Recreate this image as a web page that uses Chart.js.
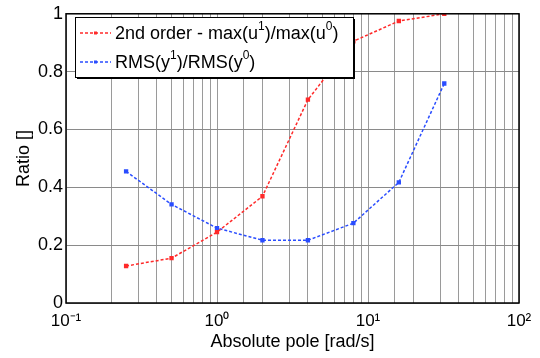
<!DOCTYPE html>
<html lang="en">
<head>
<meta charset="utf-8">
<script src="https://cdn.jsdelivr.net/npm/chart.js@4.4.1/dist/chart.umd.min.js"></script>
<style>
  html, body { margin: 0; padding: 0; background: #fff; }
  #wrap { width: 540px; height: 358px; }
</style>
</head>
<body>
<div id="wrap"><canvas id="chart" width="540" height="358"></canvas></div>
<script>
// pole magnitudes (rad/s)
var poles = [0.25, 0.5, 1, 2, 4, 8, 16, 32];
// 2nd order - max(u1)/max(u0)
var maxRatio = [0.128, 0.155, 0.245, 0.369, 0.703, 0.905, 0.975, 1.0];
// RMS(y1)/RMS(y0)
var rmsRatio = [0.455, 0.341, 0.259, 0.217, 0.217, 0.276, 0.417, 0.759];

var xDecades = [0.1, 1, 10, 100];
var xDecadeLabels = ['10⁻¹', '10⁰', '10¹', '10²'];
var yTicks = [0, 0.2, 0.4, 0.6, 0.8, 1];

var FONT = 'Liberation Sans, Arial, sans-serif';

function toPoints(xs, ys) {
  return xs.map(function (x, i) { return { x: x, y: ys[i] }; });
}

// draws a string with superscript parts, e.g. [['max(u',0],['1',1],[')',0]]
function drawRich(ctx, parts, x, y, size) {
  parts.forEach(function (p) {
    var sup = p[1];
    ctx.font = (sup ? Math.round(size * 0.65) : size) + 'px ' + FONT;
    ctx.fillText(p[0], x, sup ? y - size * 0.4 : y);
    x += ctx.measureText(p[0]).width;
  });
}

var frameAndLegend = {
  id: 'frameAndLegend',
  afterDatasetsDraw: function (chart) {
    var ctx = chart.ctx;
    var a = chart.chartArea;
    ctx.save();
    // axes box
    ctx.strokeStyle = '#000';
    ctx.lineWidth = 1.5;
    ctx.strokeRect(a.left, a.top, a.right - a.left, a.bottom - a.top);

    // legend box
    var lx = 75, ly = 17, lw = 278, lh = 60;
    ctx.fillStyle = '#fff';
    ctx.fillRect(lx, ly, lw, lh);
    ctx.lineWidth = 1;
    ctx.strokeRect(lx + 0.5, ly + 0.5, lw, lh);
    ctx.lineWidth = 2;
    ctx.beginPath();
    ctx.moveTo(lx + lw + 1, ly + 2); ctx.lineTo(lx + lw + 1, ly + lh + 1); ctx.lineTo(lx + 2, ly + lh + 1);
    ctx.stroke();

    var rows = [
      { color: '#ff2a2a', y: 33, parts: [['2nd order - max(u', 0], ['1', 1], [')/max(u', 0], ['0', 1], [')', 0]] },
      { color: '#2a4dff', y: 62, parts: [['RMS(y', 0], ['1', 1], [')/RMS(y', 0], ['0', 1], [')', 0]] }
    ];
    rows.forEach(function (r) {
      ctx.strokeStyle = r.color;
      ctx.lineWidth = 1.5;
      ctx.setLineDash([3, 2]);
      ctx.beginPath();
      ctx.moveTo(80, r.y); ctx.lineTo(111, r.y);
      ctx.stroke();
      ctx.setLineDash([]);
      ctx.fillStyle = r.color;
      ctx.fillRect(94, r.y - 1.5, 3, 3);
      ctx.fillStyle = '#000';
      ctx.textBaseline = 'middle';
      ctx.textAlign = 'left';
      drawRich(ctx, r.parts, 115, r.y + 1, 18);
    });
    ctx.restore();
  }
};

var ctx = document.getElementById('chart').getContext('2d');
new Chart(ctx, {
  type: 'line',
  data: {
    datasets: [
      {
        label: '2nd order - max(u1)/max(u0)',
        data: toPoints(poles, maxRatio),
        borderColor: '#ff2a2a',
        backgroundColor: '#ff2a2a',
        borderWidth: 1.5,
        borderDash: [3, 2],
        pointStyle: 'rect',
        pointRadius: 2,
        fill: false,
        tension: 0
      },
      {
        label: 'RMS(y1)/RMS(y0)',
        data: toPoints(poles, rmsRatio),
        borderColor: '#2a4dff',
        backgroundColor: '#2a4dff',
        borderWidth: 1.5,
        borderDash: [3, 2],
        pointStyle: 'rect',
        pointRadius: 2,
        fill: false,
        tension: 0
      }
    ]
  },
  options: {
    responsive: false,
    animation: false,
    layout: { padding: { left: 13, right: 21, top: 13, bottom: 5 } },
    plugins: {
      legend: { display: false },
      tooltip: { enabled: false }
    },
    scales: {
      x: {
        type: 'logarithmic',
        min: 0.1,
        max: 100,
        afterFit: function (s) { s.height = 50; },
        grid: { color: '#9a9a9a', lineWidth: 1, drawTicks: false },
        border: { display: false },
        ticks: {
          autoSkip: false,
          maxRotation: 0,
          padding: 8,
          color: '#000',
          font: { family: FONT, size: 17 },
          callback: function (v) {
            var i = xDecades.findIndex(function (d) { return Math.abs(v - d) < d * 1e-6; });
            return i >= 0 ? xDecadeLabels[i] : '';
          }
        },
        title: {
          display: true,
          text: 'Absolute pole [rad/s]',
          color: '#000',
          font: { family: FONT, size: 18 },
          padding: 0
        }
      },
      y: {
        min: 0,
        max: 1,
        afterFit: function (s) { s.width = 53; },
        afterBuildTicks: function (s) { s.ticks = yTicks.map(function (v) { return { value: v }; }); },
        grid: { color: '#8a8a8a', lineWidth: 1, drawTicks: false },
        border: { display: false },
        ticks: {
          padding: 3,
          color: '#000',
          font: { family: FONT, size: 18 },
          callback: function (v) { return String(v); }
        },
        title: {
          display: true,
          text: 'Ratio []',
          color: '#000',
          font: { family: FONT, size: 18 },
          padding: 0
        }
      }
    }
  },
  plugins: [frameAndLegend]
});
</script>
</body>
</html>
